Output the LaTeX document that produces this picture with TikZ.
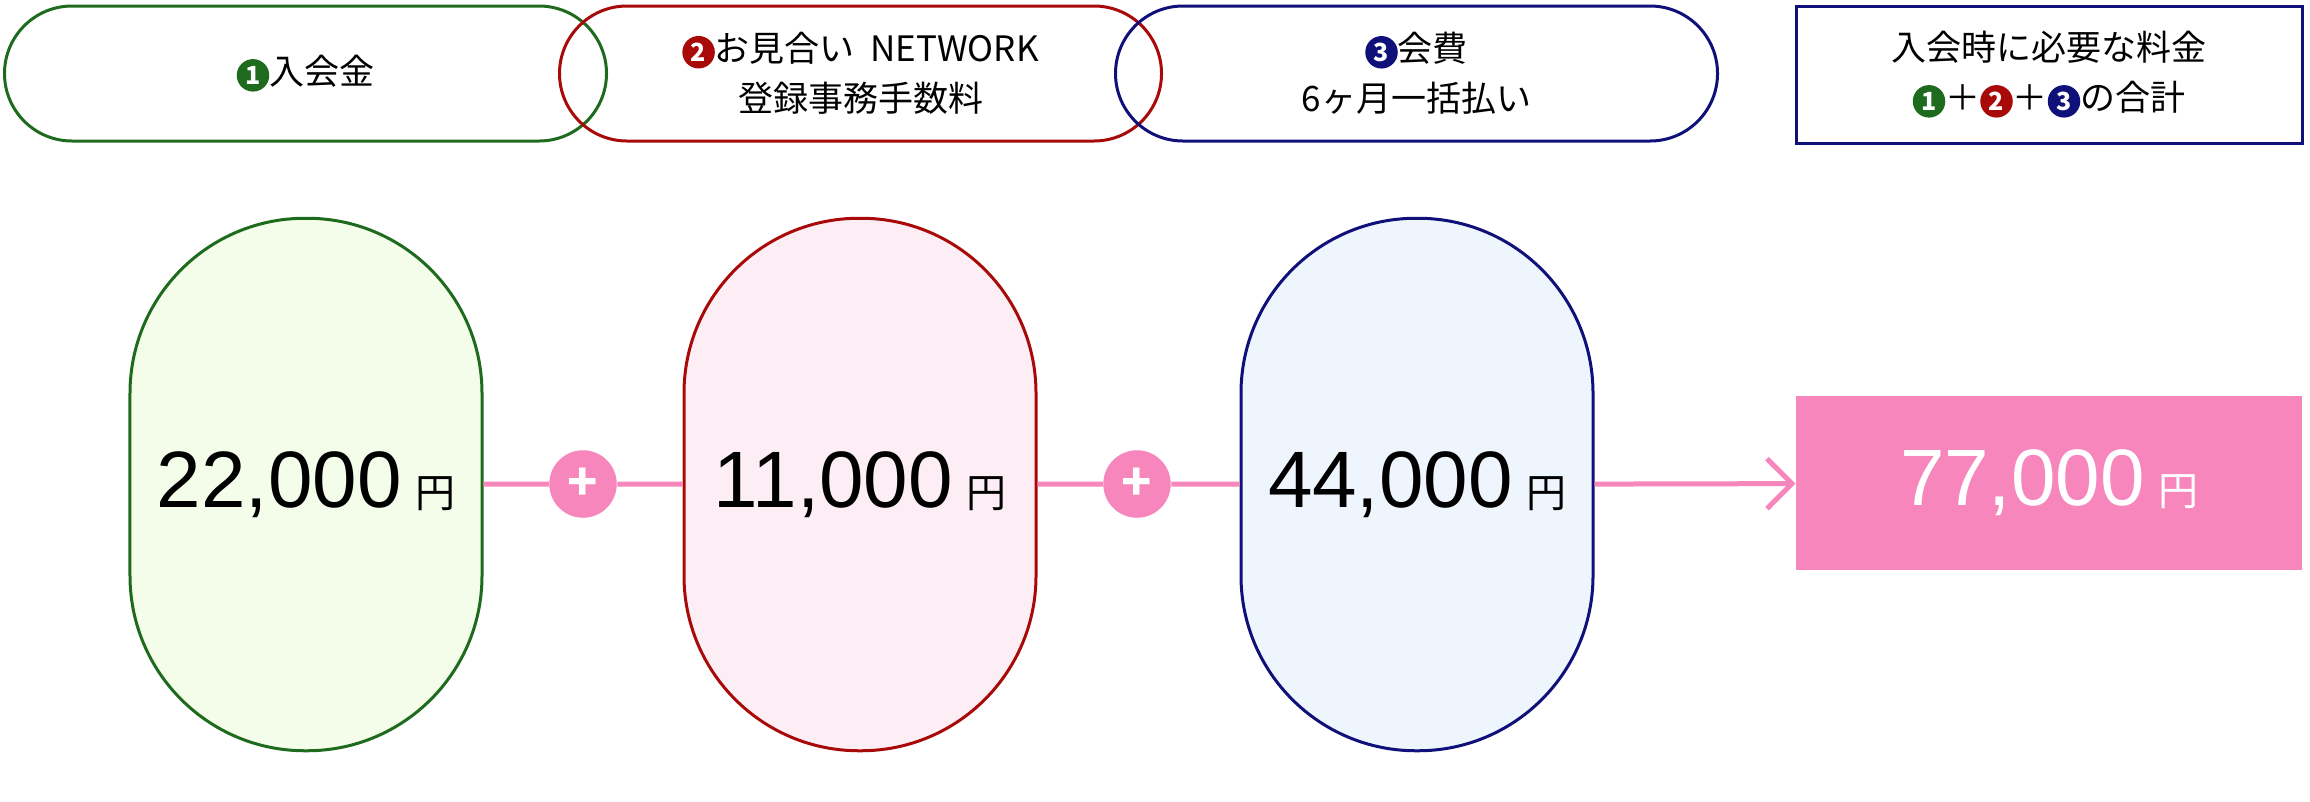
\documentclass[tikz,border=0pt]{standalone}
\usepackage{fontspec}
\setmainfont{Noto Sans CJK JP}
\newfontfamily\numfont{Liberation Sans}
\newfontfamily\cjkfont{Noto Sans CJK JP}
\usetikzlibrary{positioning,arrows.meta}
\definecolor{kgreen}{HTML}{1E6B1E}
\definecolor{kred}{HTML}{A80A0A}
\definecolor{knavy}{HTML}{10107A}
\definecolor{kpink}{HTML}{F786BD}
\definecolor{fgreen}{HTML}{F4FCEA}
\definecolor{fred}{HTML}{FDEEF5}
\definecolor{fblue}{HTML}{EEF5FD}
\newcommand{\badge}[2]{\tikz[baseline=-0.5ex]\node[circle,fill=#1,text=white,inner sep=0pt,minimum size=13pt,font=\bfseries\fontsize{10}{10}\selectfont]{#2};}
\newcommand{\yenmark}{{\cjkfont\fontsize{16}{16}\selectfont 円}}
\tikzset{
  headpill/.style={rectangle, draw=#1, line width=1.2pt, rounded corners=27pt, minimum width=240.8pt, minimum height=54pt, align=center, font=\fontsize{14}{20}\selectfont},
  bigpill/.style={rectangle, draw=#1, line width=1.2pt, rounded corners=70pt, minimum width=140.8pt, minimum height=213pt, font=\numfont\fontsize{32}{32}\selectfont},
  plusdot/.style={circle, fill=kpink, text=white, minimum size=27pt, inner sep=0pt, font=\bfseries\fontsize{20}{20}\selectfont},
  link/.style={draw=kpink, line width=2pt}
}
\begin{document}
\begin{tikzpicture}[x=0.4pt,y=-0.4pt]
  \useasboundingbox (0,0) rectangle (2310,801);

  % header row
  \node [headpill=kgreen] (H1) at (305.5,73.5) {\badge{kgreen}{1}入会金};
  \node [headpill=kred] (H2) at (860.5,73.5) {\badge{kred}{2}お見合い\ \ NETWORK\\登録事務手数料};
  \node [headpill=knavy] (H3) at (1416.5,73.5) {\badge{knavy}{3}会費\\6ヶ月一括払い};
  \node [rectangle, draw=knavy, line width=1.2pt, minimum width=202.4pt, minimum height=54.8pt, align=center, font=\fontsize{14}{20}\selectfont] (HT) at (2049,74.5) {入会時に必要な料金\\\badge{kgreen}{1}＋\badge{kred}{2}＋\badge{knavy}{3}の合計};

  % price row
  \node [bigpill=kgreen, fill=fgreen] (P1) at (306,484.5) {22,000\,\yenmark};
  \node [bigpill=kred, fill=fred] (P2) at (860,484.5) {11,000\,\yenmark};
  \node [bigpill=knavy, fill=fblue] (P3) at (1417,484.5) {44,000\,\yenmark};
  \node [rectangle, fill=kpink, text=white, minimum width=202.4pt, minimum height=69.6pt, font=\numfont\fontsize{32}{32}\selectfont] (PT) at (2049,483) {77,000\,\yenmark};
  \node [plusdot] (S1) at (583,484) {+};
  \node [plusdot] (S2) at (1137,484) {+};

  % connectors
  \path [link] (P1) -- (S1);
  \path [link] (S1) -- (P2);
  \path [link] (P2) -- (S2);
  \path [link] (S2) -- (P3);
  \path [link, -{Straight Barb[length=10pt,width=20pt,line width=2pt]}] (P3) -- (PT);
\end{tikzpicture}
\end{document}
